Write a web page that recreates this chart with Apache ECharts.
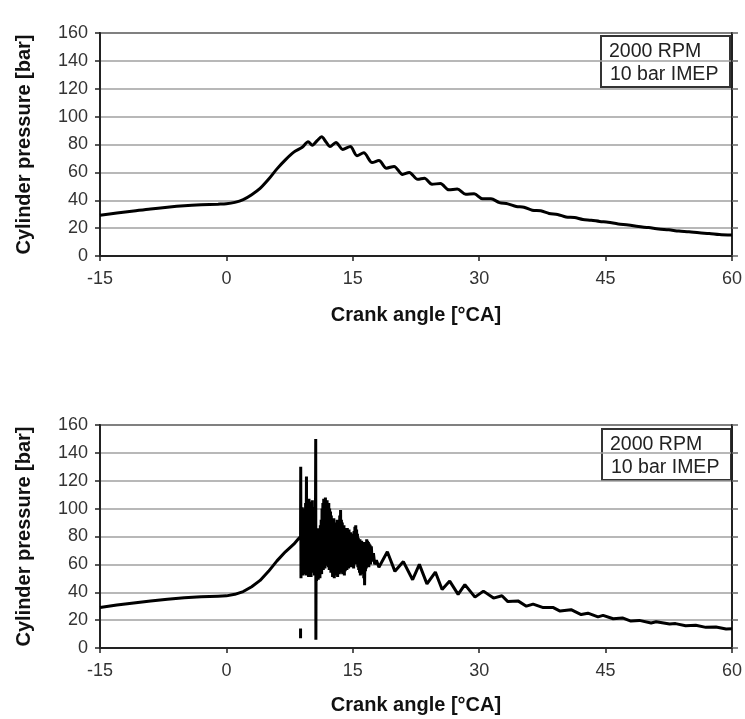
<!DOCTYPE html>
<html>
<head>
<meta charset="utf-8">
<script src="https://cdn.jsdelivr.net/npm/echarts@6/dist/echarts.min.js"></script>
<style>
html,body{margin:0;padding:0;background:#fff;}
#chart{width:745px;height:719px;}
</style>
</head>
<body>
<div id="chart"></div>
<script>
// ---- Data ----
var xTicks = [-15, 0, 15, 30, 45, 60];
var yTicks = [0, 20, 40, 60, 80, 100, 120, 140, 160];
var boxLines = ['2000 RPM', '10 bar IMEP'];
var xName = 'Crank angle [°CA]';
var yName = 'Cylinder pressure [bar]';

// Top panel: normal combustion
var topAngle = [-15,-13,-11,-9,-7,-5,-3,-1,0,1,2,3,4,5,6,7,8,9,9.7,10.2,10.8,11.3,11.8,12.3,13.0,13.8,14.7,15.5,16.3,17.3,18.1,19.0,19.9,20.9,21.7,22.7,23.5,24.4,25.4,26.4,27.4,28.4,29.4,30.4,31.4,32.4,33.4,34.4,35.3,36.3,37.3,38.3,39.3,40.3,41.3,42.3,43.3,44.3,45.3,46.5,47.7,48.9,50.1,51.3,52.5,53.7,54.9,56.1,57.3,58.5,60];
var topPressure = [29.2,30.8,32.3,33.8,35.0,36.0,36.7,37.2,37.5,38.5,40.5,44,48.5,55,62.5,69,74.5,78,82,79.5,83,85.5,82,78.5,81.5,76.5,78.5,72,74,67,68.5,63,64.3,58.5,60,55,55.8,51.5,52,47.5,48,44.3,44.6,41,41,38.3,37.4,35.5,35,32.8,32.4,30.5,29.8,28,27.6,26.2,25.7,24.8,24.2,23.0,22.3,21.1,20.4,19.4,18.8,17.9,17.4,16.6,16.2,15.4,15.0];

// Bottom panel: knocking combustion
var botAngle = [-15,-13,-11,-9,-7,-5,-3,-1,0,1,2,3,4,5,6,7,8,8.5,8.8,8.82,
  8.85,8.90,8.95,9.00,9.05,9.10,9.15,9.20,9.25,9.30,9.35,9.40,9.45,9.50,9.55,9.60,9.65,9.70,9.75,9.80,9.85,9.90,9.95,
  10.00,10.05,10.10,10.15,10.20,10.25,10.30,10.35,10.40,10.45,10.50,10.55,10.60,10.62,10.65,10.70,10.75,10.80,10.85,10.90,10.95,
  11.00,11.05,11.10,11.15,11.20,11.25,11.30,11.35,11.40,11.45,11.50,11.55,11.60,11.65,11.70,11.75,11.80,11.85,11.90,11.95,
  12.00,12.05,12.10,12.15,12.20,12.25,12.30,12.35,12.40,12.45,12.50,12.55,12.60,12.65,12.70,12.75,12.80,12.85,12.90,12.95,
  13.00,13.05,13.10,13.15,13.20,13.25,13.30,13.35,13.40,13.45,13.50,13.55,13.60,13.65,13.70,13.75,13.80,13.85,13.90,13.95,
  14.00,14.05,14.10,14.15,14.20,14.25,14.30,14.35,14.40,14.45,14.50,14.55,14.60,14.65,14.70,14.75,14.80,14.85,14.90,14.95,
  15.00,15.05,15.10,15.15,15.20,15.25,15.30,15.35,15.40,15.45,15.50,15.55,15.60,15.65,15.70,15.75,15.80,15.85,15.90,15.95,
  16.00,16.05,16.10,16.15,16.20,16.25,16.30,16.35,16.40,16.45,16.50,16.55,16.60,16.65,16.70,16.75,16.80,16.85,16.90,16.95,
  17.00,17.05,17.10,17.20,17.30,17.45,17.6,17.8,18.1,
  19.1,20.0,21.0,22.1,22.9,23.8,24.8,25.6,26.5,27.5,28.3,29.5,30.5,31.7,32.7,33.4,34.6,35.6,36.4,37.6,38.8,39.6,40.9,42.1,42.9,44.1,44.7,45.9,47.0,48.0,49.0,50.4,51.0,52.6,53.3,54.5,55.7,56.9,58.1,59.3,60];
var botPressure = [29,30.8,32.3,33.8,35.0,36.0,36.7,37.2,37.4,38.5,40.5,44,48.5,55,62.5,69,74.5,78,80,130,
  50,98,54,101,52,97,56,100,53,95,58,104,52,123,53,106,55,104,51,107,56,103,53,
  105,51,102,57,106,54,99,58,101,52,96,55,150,6,70,48,84,52,86,49,83,
  54,85,50,88,56,92,53,100,58,104,56,107,60,106,57,108,62,105,59,106,
  63,103,58,104,56,100,57,98,54,95,55,92,51,91,53,93,50,89,54,90,
  52,88,56,92,51,89,55,91,53,95,56,99,54,92,57,90,53,87,56,88,
  52,86,55,85,58,84,56,86,60,83,57,85,60,82,58,83,61,80,58,82,
  60,79,57,84,60,87,62,88,60,85,62,82,58,79,56,77,54,78,52,75,
  55,77,53,74,56,76,50,73,45,72,55,76,57,78,58,77,60,76,58,75,
  61,74,60,73,62,68,60,63,58,
  69,55,62,49,60,46,54.5,42,48,38.5,45.5,36.5,40.8,35.8,37.5,33.3,33.8,30,31.5,29,29,26.5,27.5,24,25,22.3,23.4,21,21.6,19.3,19.8,18,18.8,17.2,17.5,16,16.3,14.8,15.1,13.6,13.8];

// Short isolated trace segment near the first spike (bottom panel)
var stubAngle = [8.8, 8.8];
var stubPressure = [14, 7];

function zip(a, b) { var r = []; for (var i = 0; i < a.length; i++) r.push([a[i], b[i]]); return r; }

var FONT = '"Liberation Sans", Arial, sans-serif';
var dark = '#222';

function xAxisFor(gi, gap) {
  return {
    type: 'value', gridIndex: gi, min: xTicks[0], max: xTicks[xTicks.length - 1], interval: 15,
    name: xName, nameLocation: 'middle', nameGap: gap,
    nameTextStyle: { fontFamily: FONT, fontSize: 20, fontWeight: 'bold', color: '#111' },
    axisLine: { show: true, onZero: false, lineStyle: { color: dark, width: 2 } },
    axisTick: { show: true, inside: false, length: 5, lineStyle: { color: dark, width: 1.5 } },
    axisLabel: { margin: 14, fontFamily: FONT, fontSize: 18, color: '#333' },
    splitLine: { show: false }
  };
}
function yAxisFor(gi) {
  return {
    type: 'value', gridIndex: gi, min: yTicks[0], max: yTicks[yTicks.length - 1], interval: 20,
    name: yName, nameLocation: 'middle', nameGap: 66, nameRotate: 90,
    nameTextStyle: { fontFamily: FONT, fontSize: 20, fontWeight: 'bold', color: '#111' },
    axisLine: { show: true, onZero: false, lineStyle: { color: dark, width: 2 } },
    axisTick: { show: true, inside: false, length: 5, lineStyle: { color: dark, width: 1.5 } },
    axisLabel: { margin: 12, fontFamily: FONT, fontSize: 18, color: '#333' },
    splitLine: { show: true, lineStyle: { color: '#a0a0a0', width: 1.5 } }
  };
}
function yRightFor(gi) {
  return {
    type: 'value', gridIndex: gi, position: 'right', min: yTicks[0], max: yTicks[yTicks.length - 1], interval: 20,
    axisLine: { show: true, onZero: false, lineStyle: { color: dark, width: 2 } },
    axisTick: { show: true, inside: false, length: 6, lineStyle: { color: '#666', width: 1.5 } },
    axisLabel: { show: false }, splitLine: { show: false }
  };
}

function box(x, y) {
  return {
    type: 'group', left: x, top: y,
    children: [
      { type: 'rect', shape: { x: 0, y: 0, width: 129, height: 51 }, style: { fill: '#fff', stroke: '#333', lineWidth: 2 } },
      { type: 'text', style: { x: 8, y: 6, text: boxLines[0], font: '19.5px ' + FONT, fill: '#222' } },
      { type: 'text', style: { x: 9, y: 29, text: boxLines[1], font: '19.5px ' + FONT, fill: '#222' } }
    ]
  };
}

var chart = echarts.init(document.getElementById('chart'), null, { renderer: 'canvas' });
chart.setOption({
  backgroundColor: '#fff',
  animation: false,
  grid: [
    { left: 100, width: 633, top: 33, height: 223, show: true, borderColor: dark, borderWidth: 2 },
    { left: 100, width: 633, top: 425, height: 223, show: true, borderColor: dark, borderWidth: 2 }
  ],
  xAxis: [xAxisFor(0, 49), xAxisFor(1, 47)],
  yAxis: [yAxisFor(0), yAxisFor(1), yRightFor(0), yRightFor(1)],
  series: [
    { type: 'line', xAxisIndex: 0, yAxisIndex: 0, data: zip(topAngle, topPressure), showSymbol: false, smooth: 0.3,
      lineStyle: { color: '#000', width: 3 } },
    { type: 'line', xAxisIndex: 1, yAxisIndex: 1, data: zip(botAngle, botPressure), showSymbol: false,
      lineStyle: { color: '#000', width: 3 } },
    { type: 'line', xAxisIndex: 1, yAxisIndex: 1, data: zip(stubAngle, stubPressure), showSymbol: false,
      lineStyle: { color: '#000', width: 3 } }
  ],
  graphic: [box(600, 35), box(601, 428)]
});
</script>
</body>
</html>
